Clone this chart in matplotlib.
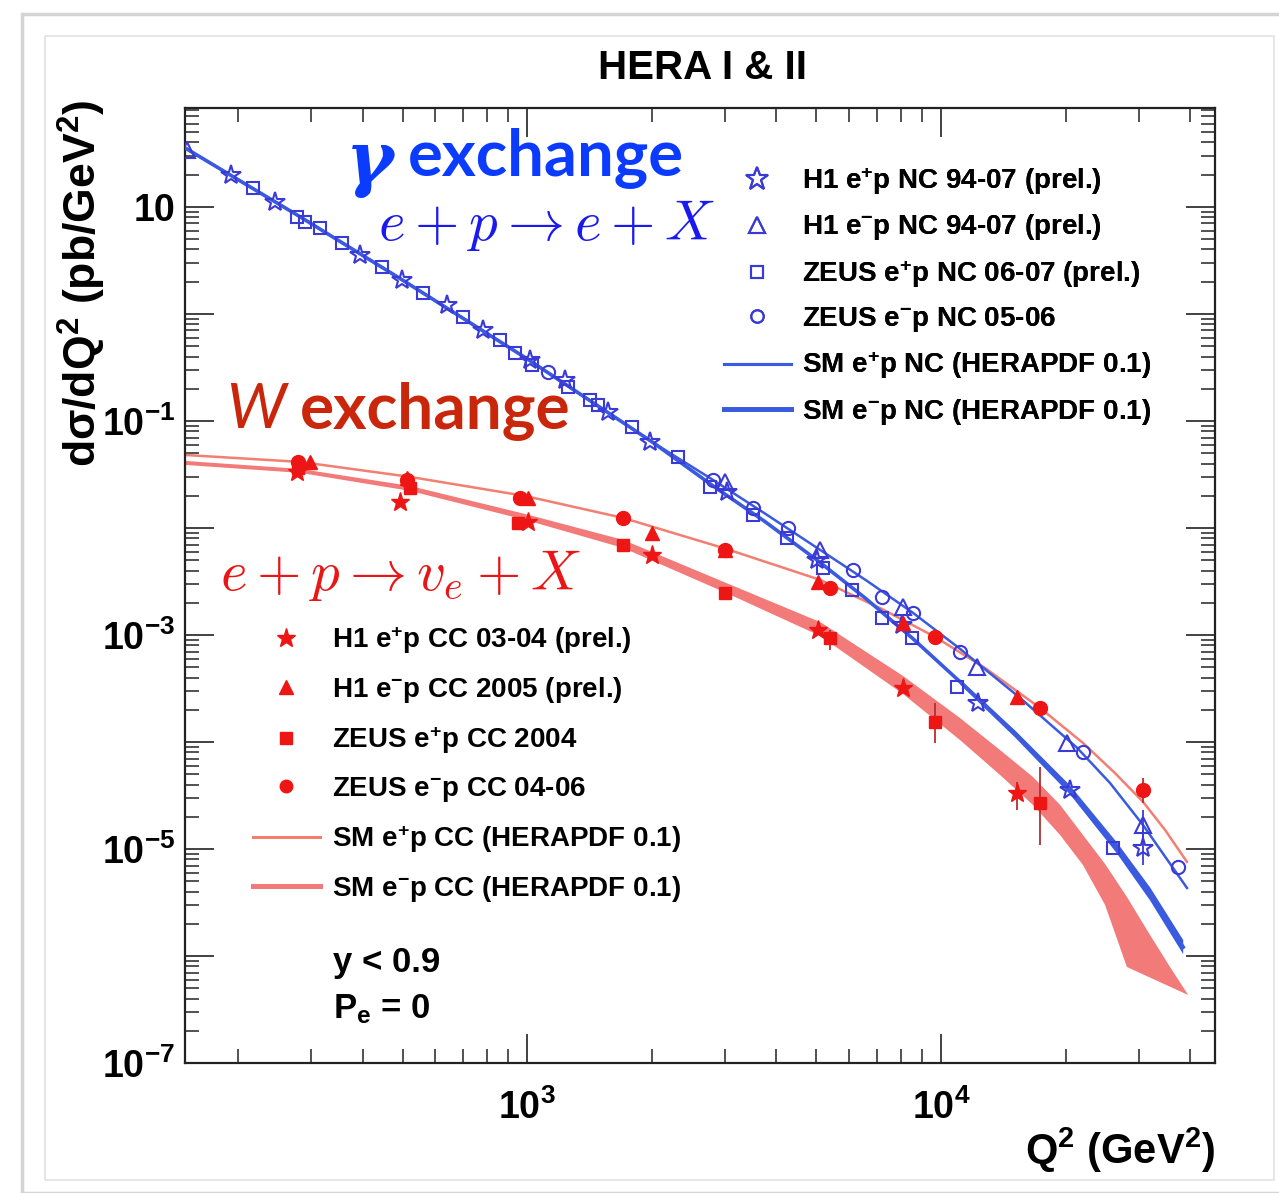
#!/usr/bin/env python3
"""
HERA I & II neutral-current and charged-current cross sections dsigma/dQ2 vs Q2.
"""

import matplotlib
matplotlib.use("Agg")
import matplotlib.pyplot as plt
import numpy as np
from matplotlib.lines import Line2D
from matplotlib.patches import Rectangle
from matplotlib.ticker import LogLocator, FuncFormatter, NullFormatter

plt.rcParams["mathtext.fontset"] = "cm"
ROOT_FONT = ["Liberation Sans", "DejaVu Sans"]

# ---------------- NC data (gamma exchange) ----------------
NC_H1_EP_Q2 = [192, 246, 395, 499, 641, 783, 1017, 1235, 1569, 1983, 3040, 5010, 8050, 12270, 20500, 30770]
NC_H1_EP_XS = [19.9, 11.1, 3.56, 2.08, 1.21, 0.708, 0.371, 0.242, 0.121, 0.0637, 0.0218, 0.00502,
               0.00124, 2.31e-4, 3.56e-5, 1.02e-5]

NC_H1_EM_Q2 = [151, 3006, 5104, 8091, 12220, 20150, 30770]
NC_H1_EM_XS = [34.1, 0.0269, 0.00622, 0.00183, 5.02e-4, 9.8e-5, 1.67e-5]

NC_ZEUS_EP_Q2 = [217, 278, 291, 316, 357, 447, 561, 700, 861, 936, 1028, 1256, 1420, 1484, 1795,
                 2316, 2768, 3516, 4248, 5190, 6095, 7194, 8510, 10940, 26000]
NC_ZEUS_EP_XS = [15.1, 8.07, 7.25, 6.37, 4.61, 2.75, 1.57, 0.937, 0.571, 0.432, 0.334, 0.208, 0.157,
                 0.141, 0.0879, 0.0461, 0.0242, 0.0132, 0.00807, 0.00423, 0.00264, 0.00144, 9.38e-4,
                 3.27e-4, 1.02e-5]

NC_ZEUS_EM_Q2 = [1124, 2812, 3516, 4266, 6126, 7194, 8547, 11120, 22020, 37320]
NC_ZEUS_EM_XS = [0.287, 0.0281, 0.0154, 0.0100, 0.00405, 0.00226, 0.00161, 6.94e-4, 8.07e-5, 6.79e-6]

NC_BAR_Q2 = [30770, 30770]
NC_BAR_LO = [7.08e-6, 1.2e-5]
NC_BAR_HI = [1.51e-5, 2.3e-5]

# SM NC curves
NC_EM_LINE_Q2 = [149, 283, 499, 1000, 2003, 2812, 3802, 5104, 6622, 8551, 11120, 15520, 21330,
                 25590, 30770, 39280]
NC_EM_LINE_XS = [35.6, 8.06, 2.08, 0.380, 0.0637, 0.0281, 0.0132, 0.00623, 0.0032, 0.00161,
                 7.40e-4, 2.58e-4, 8.79e-5, 4.14e-5, 1.67e-5, 4.32e-6]

NC_EP_LINE_Q2 = [149, 283, 499, 1000, 2003, 2812, 3761, 5010, 6550, 8510, 11120, 15100, 20500,
                 26600, 31990, 38460]
NC_EP_LINE_XS = [35.6, 8.06, 2.08, 0.380, 0.0637, 0.0247, 0.0114, 0.00502, 0.00222, 9.38e-4,
                 3.64e-4, 1.19e-4, 3.56e-5, 1.02e-5, 3.79e-6, 1.21e-6]

NC_EP_BAND_Q2 = [11120, 15100, 20500, 26600, 31990, 38460]
NC_EP_BAND_HI = [3.84e-4, 1.28e-4, 3.92e-5, 1.15e-5, 4.37e-6, 1.41e-6]
NC_EP_BAND_LO = [3.44e-4, 1.10e-4, 3.23e-5, 9.08e-6, 3.30e-6, 1.04e-6]

# ---------------- CC data (W exchange) ----------------
CC_H1_EP_Q2 = [278, 493, 1005, 2004, 5050, 8090, 15280]
CC_H1_EP_XS = [0.0334, 0.0175, 0.0114, 0.0056, 0.00111, 3.2e-4, 3.33e-5]

CC_H1_EM_Q2 = [299, 513, 1005, 2004, 3006, 5050, 8090, 15280]
CC_H1_EM_XS = [0.0414, 0.0293, 0.0191, 0.00898, 0.00623, 0.00313, 0.00129, 2.64e-4]

CC_ZEUS_EP_Q2 = [280, 521, 951, 1707, 3006, 5393, 9680, 17340]
CC_ZEUS_EP_XS = [0.036, 0.0236, 0.0112, 0.00694, 0.00247, 9.38e-4, 1.54e-4, 2.69e-5]

CC_ZEUS_EM_Q2 = [280, 513, 962, 1707, 3006, 5393, 9680, 17340, 30770]
CC_ZEUS_EM_XS = [0.0414, 0.028, 0.0191, 0.0124, 0.0062, 0.00275, 9.57e-4, 2.08e-4, 3.56e-5]

CC_BAR_Q2 = [5393, 9680, 15280, 17340, 30770]
CC_BAR_LO = [7.3e-4, 9.8e-5, 2.31e-5, 1.09e-5, 2.69e-5]
CC_BAR_HI = [1.11e-3, 2.3e-4, 4.23e-5, 5.8e-5, 4.61e-5]

# SM CC curves
CC_EM_LINE_Q2 = [149, 283, 521, 989, 1706, 3026, 5104, 7194, 9680, 12760, 17340, 22020, 26300,
                 30770, 34750, 39280]
CC_EM_LINE_XS = [0.0481, 0.0414, 0.030, 0.0199, 0.0124, 0.00637, 0.00327, 0.00175, 9.57e-4,
                 4.92e-4, 2.08e-4, 9.79e-5, 5.13e-5, 2.75e-5, 1.51e-5, 7.57e-6]

CC_EP_BAND_HI_Q2 = [149, 283, 521, 989, 1706, 3026, 5104, 8091, 11120, 13880, 16670, 19390,
                    22020, 24900, 28120, 31980, 35740, 39540]
CC_EP_BAND_HI = [0.0423, 0.0356, 0.0247, 0.0135, 0.00773, 0.00306, 0.00132, 4.14e-4, 1.67e-4,
                 8.41e-5, 4.71e-5, 2.58e-5, 1.35e-5, 7.24e-6, 3.56e-6, 1.57e-6, 7.89e-7, 4.32e-7]
CC_EP_BAND_LO_Q2 = [149, 283, 521, 989, 1706, 3026, 5104, 8091, 11120, 13880, 16670, 19390,
                    22020, 24900, 28120]
CC_EP_BAND_LO = [0.0388, 0.0327, 0.0222, 0.0119, 0.0065, 0.00247, 9.79e-4, 2.81e-4, 1.04e-4,
                 4.92e-5, 2.58e-5, 1.35e-5, 7.08e-6, 3.0e-6, 7.89e-7]

# ---------------- colours ----------------
NC_MARKER = "#3a3ad6"
NC_LINE = "#3a5ae0"
CC_MARKER = "#ee1515"
CC_LINE = "#f27f72"
CC_BAND = "#f27a78"


def decade_label(value, pos):
    exp = int(round(np.log10(value)))
    if exp == 1:
        return "10"
    return r"$\mathregular{10^{%d}}$" % exp


def y_label(value, pos):
    exp = int(round(np.log10(value)))
    if exp % 2 == 0:
        return ""
    return decade_label(value, pos)


def main():
    fig = plt.figure(figsize=(12.79, 11.93), dpi=100)
    W, H = 1279.0, 1193.0

    # page frame
    fig.add_artist(Rectangle((22 / W, 0), 1.0, 1 - 14 / H, transform=fig.transFigure,
                             fill=False, edgecolor="#d4d4d4", lw=2.5))
    fig.add_artist(Rectangle((45 / W, 1 - 1180 / H), (1274 - 45) / W, (1180 - 36) / H,
                             transform=fig.transFigure, fill=False, edgecolor="#e2e2e2", lw=1.2))

    ax = fig.add_axes([185 / W, 1 - 1063 / H, (1215 - 185) / W, (1063 - 108) / H])
    ax.set_xscale("log")
    ax.set_yscale("log")
    ax.set_xlim(149, 45900)
    ax.set_ylim(1e-7, 84)

    # SM curves
    ax.fill(CC_EP_BAND_HI_Q2 + CC_EP_BAND_LO_Q2[::-1], CC_EP_BAND_HI + CC_EP_BAND_LO[::-1],
            color=CC_BAND, lw=0, zorder=2)
    ax.plot(CC_EM_LINE_Q2, CC_EM_LINE_XS, color=CC_LINE, lw=1.8, zorder=2)
    ax.plot(NC_EP_LINE_Q2, NC_EP_LINE_XS, color=NC_LINE, lw=2.6, zorder=3)
    ax.fill(NC_EP_BAND_Q2 + NC_EP_BAND_Q2[::-1], NC_EP_BAND_HI + NC_EP_BAND_LO[::-1],
            color=NC_LINE, lw=0, zorder=3)
    ax.plot(NC_EM_LINE_Q2, NC_EM_LINE_XS, color=NC_LINE, lw=1.8, zorder=3)

    # error bars
    ax.vlines(NC_BAR_Q2, NC_BAR_LO, NC_BAR_HI, color=NC_MARKER, lw=1.3, zorder=4)
    ax.vlines(CC_BAR_Q2, CC_BAR_LO, CC_BAR_HI, color="#b03030", lw=1.3, zorder=4)

    # NC markers (open)
    open_kw = dict(ls="none", mfc="none", mec=NC_MARKER, mew=1.5, zorder=5)
    ax.plot(NC_H1_EP_Q2, NC_H1_EP_XS, marker="*", ms=15, **open_kw)
    ax.plot(NC_H1_EM_Q2, NC_H1_EM_XS, marker="^", ms=11, **open_kw)
    ax.plot(NC_ZEUS_EP_Q2, NC_ZEUS_EP_XS, marker="s", ms=9, **open_kw)
    ax.plot(NC_ZEUS_EM_Q2, NC_ZEUS_EM_XS, marker="o", ms=9.5, **open_kw)

    # CC markers (filled)
    fill_kw = dict(ls="none", color=CC_MARKER, mec=CC_MARKER, zorder=5)
    ax.plot(CC_H1_EP_Q2, CC_H1_EP_XS, marker="*", ms=14, **fill_kw)
    ax.plot(CC_H1_EM_Q2, CC_H1_EM_XS, marker="^", ms=10, **fill_kw)
    ax.plot(CC_ZEUS_EP_Q2, CC_ZEUS_EP_XS, marker="s", ms=9, **fill_kw)
    ax.plot(CC_ZEUS_EM_Q2, CC_ZEUS_EM_XS, marker="o", ms=10, **fill_kw)

    # axes style (ROOT look)
    for side in ax.spines.values():
        side.set_linewidth(1.6)
        side.set_color("#222222")
    ax.xaxis.set_major_locator(LogLocator(base=10, numticks=30))
    ax.yaxis.set_major_locator(LogLocator(base=10, numticks=30))
    ax.xaxis.set_minor_locator(LogLocator(base=10, subs=range(2, 10), numticks=30))
    ax.yaxis.set_minor_locator(LogLocator(base=10, subs=range(2, 10), numticks=30))
    ax.xaxis.set_minor_formatter(NullFormatter())
    ax.yaxis.set_minor_formatter(NullFormatter())
    ax.xaxis.set_major_formatter(FuncFormatter(decade_label))
    ax.yaxis.set_major_formatter(FuncFormatter(y_label))
    ax.tick_params(which="both", direction="in", top=True, right=True, color="#333333")
    ax.tick_params(which="major", length=21, width=1.3)
    ax.tick_params(which="minor", length=10, width=1.2)
    ax.tick_params(axis="y", which="major", pad=7)
    ax.tick_params(axis="x", which="major", pad=19)
    for lab in ax.get_xticklabels() + ax.get_yticklabels():
        lab.set_family(ROOT_FONT)
        lab.set_fontweight("bold")
        lab.set_fontsize(27)

    # titles and axis labels
    bold = dict(family=ROOT_FONT, weight="bold")
    fig.text(703 / W, 1 - 68 / H, "HERA I & II", ha="center", va="center", size=29, **bold)
    fig.text(82 / W, 1 - 100 / H,
             r"d$\mathregular{\sigma}$/dQ$\mathregular{^{2}}$ (pb/GeV$\mathregular{^{2}}$)",
             rotation=90, ha="center", va="top", size=32, **bold)
    fig.text(1215 / W, 1 - 1150 / H, r"Q$\mathregular{^{2}}$ (GeV$\mathregular{^{2}}$)",
             ha="right", va="center", size=30, **bold)
    fig.text(333 / W, 1 - 972 / H, "y < 0.9", ha="left", va="baseline", size=25, **bold)
    fig.text(333 / W, 1 - 1018 / H, r"P$\mathregular{_{e}}$ = 0", ha="left", va="baseline",
             size=25, **bold)

    # annotations
    blue_t = "#0b3bff"
    red_t = "#c9260b"
    fig.text(370 / W, 1 - 162 / H, "γ", ha="center", va="center", size=52, color=blue_t,
             family="DejaVu Serif", style="italic", weight="bold")
    fig.text(408 / W, 1 - 176 / H, "exchange", ha="left", va="baseline", size=47,
             color=blue_t, family="Lato", weight="bold")
    fig.text(378 / W, 1 - 240 / H, r"$e+p\rightarrow e+X$", ha="left", va="baseline",
             size=41, color="#1a1af0")
    fig.text(226 / W, 1 - 428 / H, "W", ha="left", va="baseline", size=45, color=red_t,
             family="Lato", style="italic")
    fig.text(300 / W, 1 - 428 / H, "exchange", ha="left", va="baseline", size=46,
             color=red_t, family="Lato", weight="bold")
    fig.text(220 / W, 1 - 590 / H, r"$e+p\rightarrow v_e+X$", ha="left", va="baseline",
             size=41, color="#ea1515")

    # legends
    leg_font = dict(family=ROOT_FONT, weight="bold", size=20)
    nc_handles = [
        Line2D([], [], marker="*", ms=17, ls="none", mfc="none", mec=NC_MARKER, mew=1.5),
        Line2D([], [], marker="^", ms=12, ls="none", mfc="none", mec=NC_MARKER, mew=1.5),
        Line2D([], [], marker="s", ms=9, ls="none", mfc="none", mec=NC_MARKER, mew=1.5),
        Line2D([], [], marker="o", ms=9, ls="none", mfc="none", mec=NC_MARKER, mew=1.5),
        Line2D([], [], color=NC_LINE, lw=2.2),
        Line2D([], [], color=NC_LINE, lw=3.4),
    ]
    nc_labels = [
        r"H1 e$\mathregular{^{+}}$p NC 94-07 (prel.)",
        r"H1 e$\mathregular{^{-}}$p NC 94-07 (prel.)",
        r"ZEUS e$\mathregular{^{+}}$p NC 06-07 (prel.)",
        r"ZEUS e$\mathregular{^{-}}$p NC 05-06",
        r"SM e$\mathregular{^{+}}$p NC (HERAPDF 0.1)",
        r"SM e$\mathregular{^{-}}$p NC (HERAPDF 0.1)",
    ]
    leg1 = fig.legend(nc_handles, nc_labels, loc="upper left",
                      bbox_to_anchor=(724 / W, 1 - 165 / H), bbox_transform=fig.transFigure,
                      frameon=False, prop=leg_font, handlelength=2.4, handletextpad=0.4,
                      labelspacing=0.56, borderpad=0, borderaxespad=0)

    cc_handles = [
        Line2D([], [], marker="*", ms=14, ls="none", color=CC_MARKER),
        Line2D([], [], marker="^", ms=10, ls="none", color=CC_MARKER),
        Line2D([], [], marker="s", ms=8, ls="none", color=CC_MARKER),
        Line2D([], [], marker="o", ms=9, ls="none", color=CC_MARKER),
        Line2D([], [], color=CC_LINE, lw=2.2),
        Line2D([], [], color=CC_BAND, lw=3.6),
    ]
    cc_labels = [
        r"H1 e$\mathregular{^{+}}$p CC 03-04 (prel.)",
        r"H1 e$\mathregular{^{-}}$p CC 2005 (prel.)",
        r"ZEUS e$\mathregular{^{+}}$p CC 2004",
        r"ZEUS e$\mathregular{^{-}}$p CC 04-06",
        r"SM e$\mathregular{^{+}}$p CC (HERAPDF 0.1)",
        r"SM e$\mathregular{^{-}}$p CC (HERAPDF 0.1)",
    ]
    fig.legend(cc_handles, cc_labels, loc="upper left",
               bbox_to_anchor=(253 / W, 1 - 624 / H), bbox_transform=fig.transFigure,
               frameon=False, prop=leg_font, handlelength=2.4, handletextpad=0.45,
               labelspacing=0.69, borderpad=0, borderaxespad=0)
    fig.add_artist(leg1)

    fig.savefig("out.png", dpi=100)
    plt.close(fig)


if __name__ == "__main__":
    main()
